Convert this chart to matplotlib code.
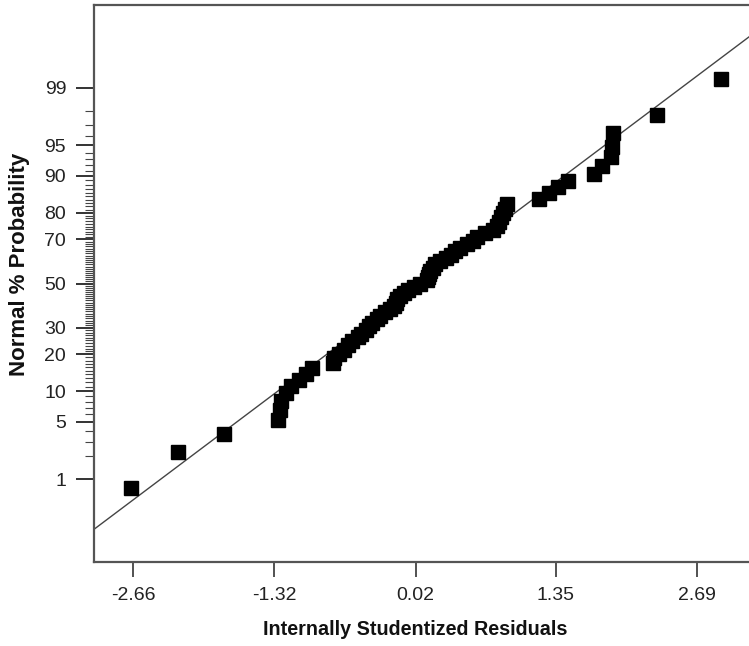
import numpy as np
import matplotlib
matplotlib.use("Agg")
import matplotlib.pyplot as plt
from matplotlib import font_manager
from statistics import NormalDist

# sorted internally studentized residuals
residuals = [-2.68, -2.23, -1.80, -1.29, -1.27, -1.26, -1.21, -1.16, -1.09, -1.02,
             -0.96, -0.76, -0.75, -0.71, -0.66, -0.62, -0.58, -0.53, -0.50, -0.45,
             -0.42, -0.39, -0.35, -0.32, -0.27, -0.22, -0.19, -0.17, -0.16, -0.13,
             -0.09, -0.05, 0.00, 0.06, 0.13, 0.14, 0.15, 0.16, 0.18, 0.20,
             0.25, 0.31, 0.35, 0.39, 0.44, 0.51, 0.56, 0.60, 0.68, 0.75,
             0.79, 0.81, 0.83, 0.85, 0.87, 0.89, 1.19, 1.28, 1.37, 1.46,
             1.71, 1.79, 1.87, 1.88, 1.89, 2.31, 2.91]

# fitted normal line (ends at the plot edges)
fit_x = [-3.04, 3.18]
fit_pct = [0.17, 99.83]

pct_ticks = [1, 5, 10, 20, 30, 50, 70, 80, 90, 95, 99]
pct_minor = [p for p in range(2, 99) if p not in pct_ticks]
pct_lim = [0.047, 99.953]
x_ticks = [-2.66, -1.32, 0.02, 1.35, 2.69]
x_labels = ["-2.66", "-1.32", "0.02", "1.35", "2.69"]
x_lim = [-3.03, 3.18]

# plotting positions for a normal probability plot
n = len(residuals)
probability = 100.0 * (np.arange(1, n + 1) - 0.5) / n

_nd = NormalDist()


def pct_to_z(p):
    p = np.clip(np.asarray(p, dtype=float) / 100.0, 1e-9, 1 - 1e-9)
    return np.vectorize(_nd.inv_cdf, otypes=[float])(p)


def z_to_pct(z):
    return np.vectorize(_nd.cdf, otypes=[float])(np.asarray(z, dtype=float)) * 100.0


names = {f.name for f in font_manager.fontManager.ttflist}
tick_font = "Liberation Sans Narrow" if "Liberation Sans Narrow" in names else "Liberation Sans"
tick_size = 15.5 if tick_font == "Liberation Sans Narrow" else 14

fig = plt.figure(figsize=(7.49, 6.46), dpi=100)
ax = fig.add_axes([94 / 749, 84 / 646, 655 / 749, 557 / 646])
ax.set_yscale("function", functions=(pct_to_z, z_to_pct))

ax.plot(fit_x, fit_pct, color="#444444", linewidth=1.0, zorder=2)
ax.plot(residuals, probability, linestyle="none", marker="s", markersize=10,
        color="black", zorder=3)

ax.set_xlim(x_lim)
ax.set_ylim(pct_lim)

ax.set_xticks(x_ticks)
ax.set_xticklabels(x_labels)
ax.set_yticks(pct_ticks)
ax.set_yticklabels([str(p) for p in pct_ticks])
ax.set_yticks(pct_minor, minor=True)

for lab in ax.get_xticklabels() + ax.get_yticklabels():
    lab.set_family([tick_font, "DejaVu Sans"])
    lab.set_fontsize(tick_size)
    lab.set_color("#222222")

ax.tick_params(axis="x", length=11, width=1.2, pad=7, color="#333333")
ax.tick_params(axis="y", which="major", length=13, width=1.4, pad=7, color="#333333")
ax.tick_params(axis="y", which="minor", length=6.5, width=0.8, color="#444444")

ax.spines["right"].set_visible(False)
for s in ["left", "bottom", "top"]:
    ax.spines[s].set_color("#555555")
    ax.spines[s].set_linewidth(1.6)

ax.set_xlabel("Internally Studentized Residuals", fontsize=14.2, fontweight="bold",
              family=["Liberation Sans", "DejaVu Sans"], color="#111111")
ax.set_ylabel("Normal % Probability", fontsize=16, fontweight="bold",
              family=["Liberation Sans", "DejaVu Sans"], color="#111111")
ax.xaxis.set_label_coords(0.49, -0.104)
ax.yaxis.set_label_coords(-0.097, 0.535)

fig.savefig("out.png", dpi=100)
